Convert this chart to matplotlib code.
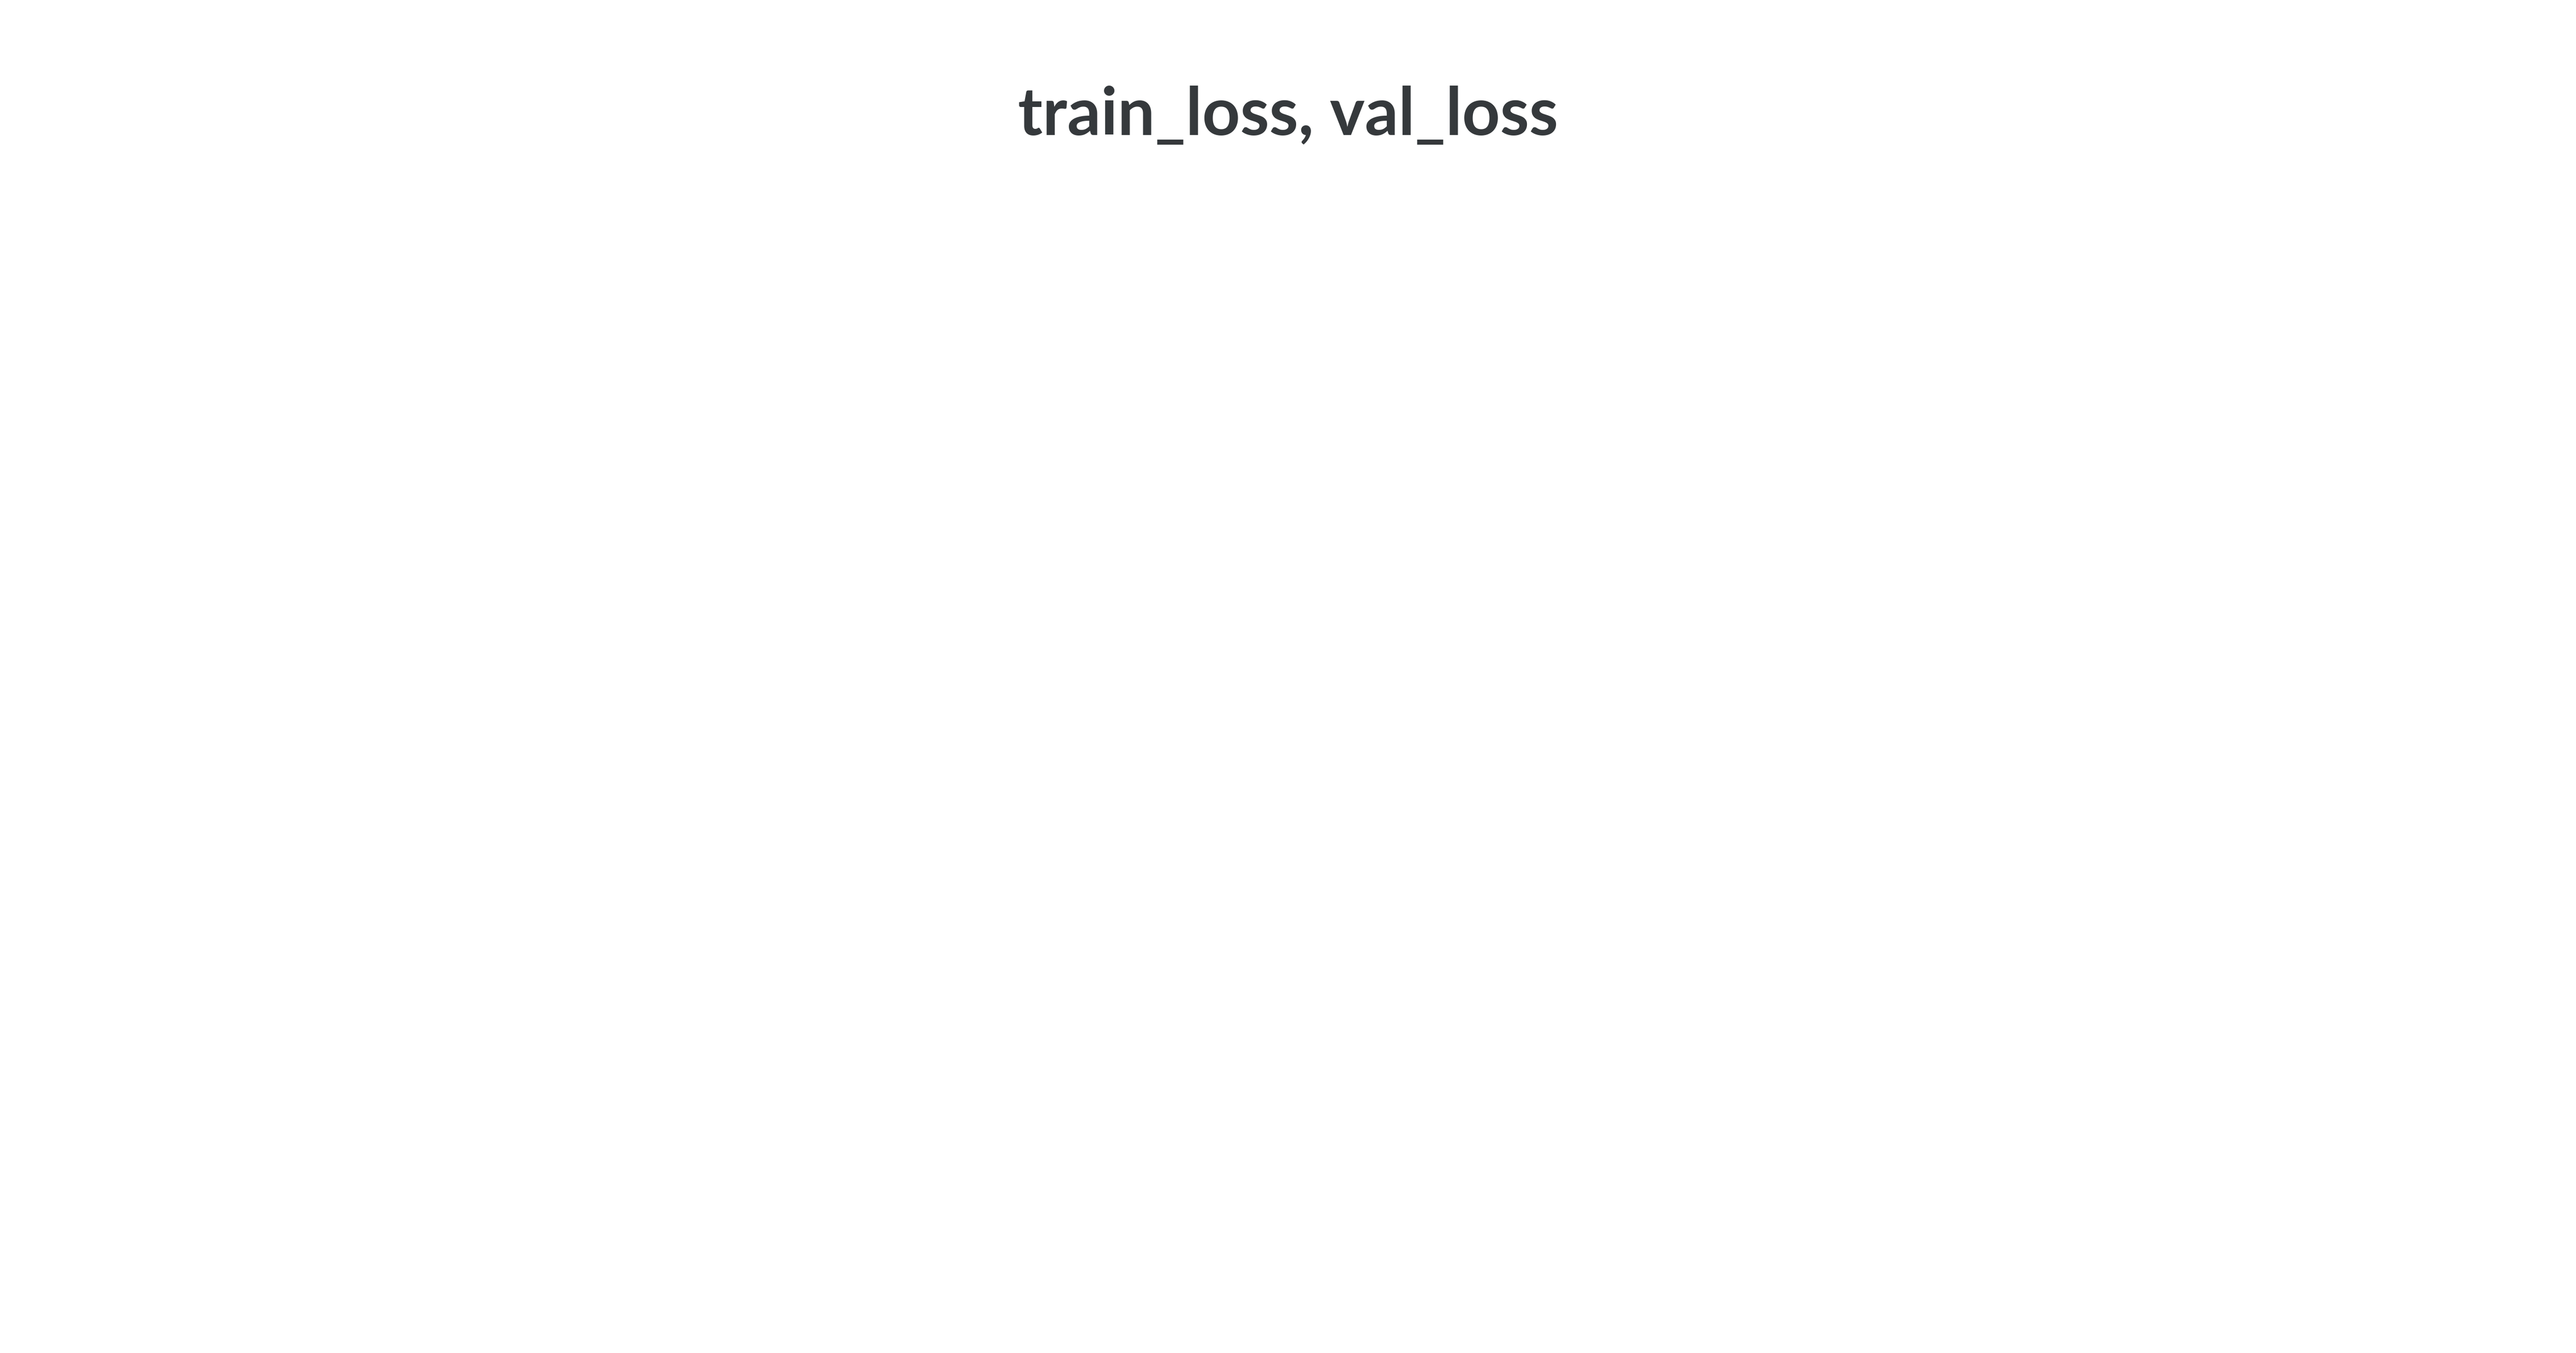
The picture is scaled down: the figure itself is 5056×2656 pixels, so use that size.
import matplotlib
matplotlib.use("Agg")
import matplotlib.pyplot as plt

# Data: the reference chart shows no plotted points for either series
title_text = "train_loss, val_loss"
series_names = ["train_loss", "val_loss"]
train_loss_steps = []
train_loss = []
val_loss_steps = []
val_loss = []

W, H, DPI = 5056, 2656, 100
fig = plt.figure(figsize=(W / DPI, H / DPI), dpi=DPI, facecolor="white")
ax = fig.add_axes([0.03, 0.08, 0.94, 0.78])
ax.plot(train_loss_steps, train_loss, label=series_names[0])
ax.plot(val_loss_steps, val_loss, label=series_names[1])
ax.set_axis_off()

fig.text(0.5, 1 - 265 / H, title_text, ha="center", va="baseline",
         fontsize=93.5, fontweight="bold", color="#35393c",
         family=["Lato", "DejaVu Sans"])

fig.savefig("out.png", dpi=DPI, facecolor="white")
